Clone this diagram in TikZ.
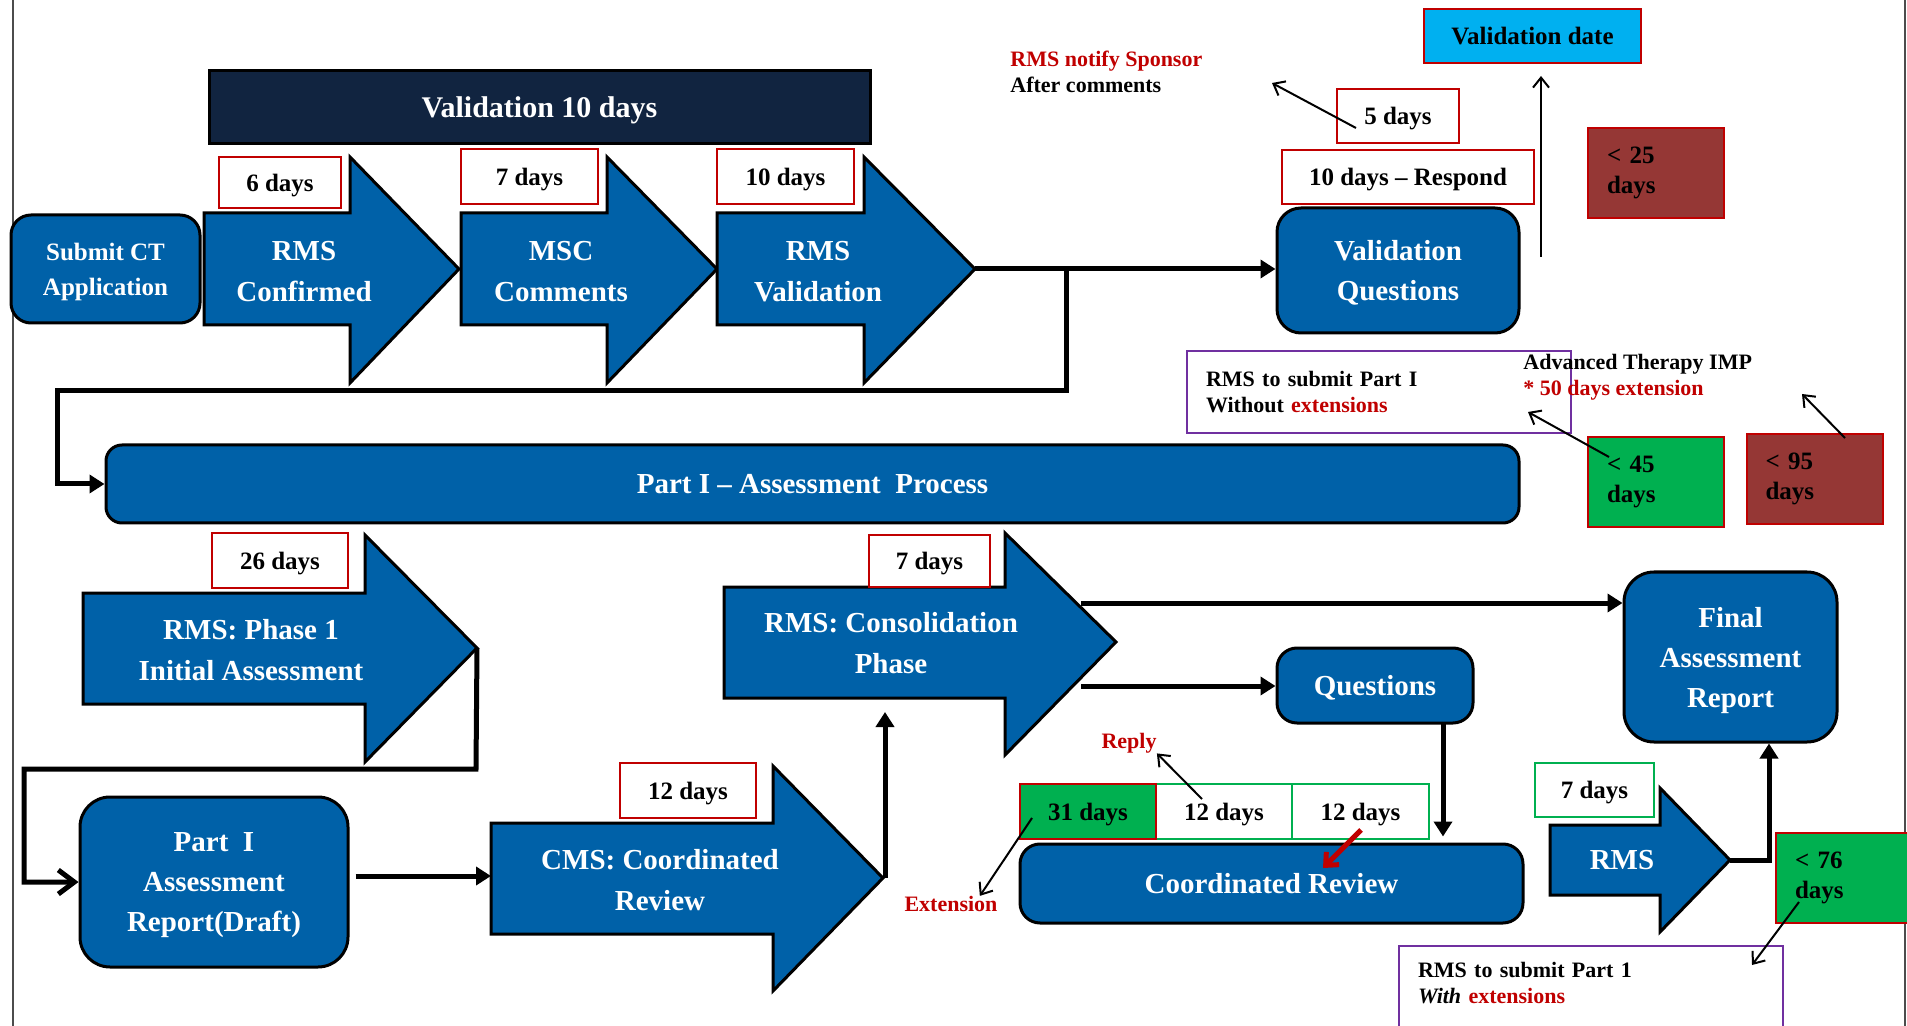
\documentclass[tikz,border=0pt]{standalone}
\usepackage{fontspec}
\setmainfont{Liberation Serif}
\usetikzlibrary{arrows.meta}

\definecolor{msblue}{RGB}{0,97,168}
\definecolor{navy}{RGB}{17,36,64}
\definecolor{boxred}{RGB}{192,0,0}
\definecolor{boxgreen}{RGB}{0,176,80}
\definecolor{limitred}{RGB}{149,55,53}
\definecolor{limitgreen}{RGB}{0,176,80}
\definecolor{notepurple}{RGB}{112,48,160}
\definecolor{valcyan}{RGB}{0,176,240}

\begin{document}
\begin{tikzpicture}[x=0.5pt,y=-0.5pt,
    blueshape/.style={fill=msblue,draw=black,line width=1.5pt},
    roundbox/.style={blueshape,rounded corners=10pt,inner sep=0pt,text=white,align=center,text depth=0pt,
      font=\bfseries\fontsize{14.5}{20}\selectfont},
    arrowtext/.style={text=white,align=center,inner sep=0pt,text depth=0pt,font=\bfseries\fontsize{14.5}{20.5}\selectfont},
    daybox/.style={draw=boxred,fill=white,line width=1pt,inner sep=0pt,text depth=0pt,
      font=\bfseries\fontsize{12.5}{15}\selectfont},
    greenday/.style={daybox,draw=boxgreen},
    limitbox/.style={draw=boxred,line width=1pt,inner ysep=0pt,inner xsep=9.5pt,align=left,
      text width=49pt,minimum width=68pt,minimum height=45pt,font=\bfseries\fontsize{12.5}{15}\selectfont},
    notebox/.style={draw=notepurple,fill=white,line width=1pt,inner xsep=9.5pt,align=left,
      font=\bfseries\fontsize{11}{13}\selectfont},
    note/.style={align=left,inner sep=0pt,font=\bfseries\fontsize{11}{13}\selectfont},
    link/.style={line width=2.5pt,-{Triangle[length=7.5pt,width=9pt]}},
    pointer/.style={line width=1pt,-{Straight Barb[length=5pt,width=8pt]}}]
  \useasboundingbox (0,0) rectangle (1907,1026);
  % page frame
  \draw[line width=0.75pt,black!70] (13,0) -- (13,1026);
  \draw[line width=0.75pt,black!70] (1905,0) -- (1905,1026);

  % validation row
  \node[fill=navy,draw=black,line width=1.5pt,minimum width=330.5pt,minimum height=36.5pt,text depth=0pt,
    text=white,font=\bfseries\fontsize{15}{18}\selectfont] (valten) at (539.5,107.5) {Validation 10 days};
  \node[roundbox,minimum width=94.5pt,minimum height=54pt,
    font=\bfseries\fontsize{12.5}{17.5}\selectfont] (submit) at (105.5,269) {Submit CT\\Application};

  \draw[blueshape] (204,213) -- (350,213) -- (350,157) -- (459,269) -- (350,383) -- (350,325) -- (204,325) -- cycle;
  \node[arrowtext] (rmsconf) at (304,271) {RMS\\Confirmed};
  \draw[blueshape] (461,213) -- (607,213) -- (607,157) -- (717,269) -- (607,383) -- (607,325) -- (461,325) -- cycle;
  \node[arrowtext] (msccom) at (561,271) {MSC\\Comments};
  \draw[blueshape] (717,213) -- (864,213) -- (864,157) -- (975,269) -- (864,383) -- (864,325) -- (717,325) -- cycle;
  \node[arrowtext] (rmsval) at (818,271) {RMS\\Validation};
  \coordinate (rmsval-tip) at (975,269);

  \node[daybox,minimum width=61pt,minimum height=25.5pt] (dsix) at (280,182.5) {6 days};
  \node[daybox,minimum width=68.5pt,minimum height=27.5pt] (dseven) at (529.5,176.5) {7 days};
  \node[daybox,minimum width=68.5pt,minimum height=27.5pt] (dten) at (785.5,176.5) {10 days};

  \node[roundbox,minimum width=121pt,minimum height=62.5pt,rounded corners=12pt] (valq) at (1398,270.5) {Validation\\Questions};
  \node[daybox,minimum width=126pt,minimum height=27pt] (respond) at (1408,177) {10 days \textendash{} Respond};
  \node[daybox,minimum width=61pt,minimum height=27pt] (dfive) at (1398,116) {5 days};
  \node[daybox,fill=valcyan,minimum width=108.5pt,minimum height=27pt] (valdate) at (1532.5,36) {Validation date};
  \node[note,anchor=west] (notify) at (1010,71.5) {\textcolor{boxred}{RMS notify Sponsor}\\After comments};
  \coordinate (fivetail) at (1356,128);
  \coordinate (notifyhead) at (1272,83);
  \draw[pointer] (fivetail) -- (notifyhead);
  \coordinate (datetail) at (1541,257);
  \draw[pointer,shorten >=6pt] (datetail) -- (datetail |- valdate.south);
  \node[limitbox,fill=limitred] (lt25) at (1656,173) {< 25\\days};

  % part I
  \node[notebox,minimum width=192pt,minimum height=41pt,text width=173pt] (nopart) at (1379,392)
    {RMS to submit Part I\\Without \textcolor{boxred}{extensions}};
  \node[note,anchor=west] (atimp) at (1523,377.5) {Advanced Therapy IMP\\\textcolor{boxred}{* 50 days extension}};
  \node[limitbox,fill=limitgreen] (lt45) at (1656,482) {< 45\\days};
  \node[limitbox,fill=limitred] (lt95) at (1814.5,479) {< 95\\days};
  \coordinate (lt45tail) at (1609,457);
  \coordinate (lt45head) at (1528,412);
  \draw[pointer] (lt45tail) -- (lt45head);
  \coordinate (lt95tail) at (1845,438);
  \coordinate (lt95head) at (1802,394);
  \draw[pointer] (lt95tail) -- (lt95head);

  \node[roundbox,minimum width=706.5pt,minimum height=39pt,rounded corners=8pt] (partone) at (812.5,484)
    {Part I \textendash{} Assessment\ \ Process};

  \draw[link] (rmsval-tip) -- (valq.west |- rmsval-tip);
  \coordinate (split) at (1066,269);
  \draw[link] (split) -- (1066,391) -- (57,391) |- (partone.west);

  % assessment row
  \node[daybox,minimum width=68pt,minimum height=27.5pt] (dtwentysix) at (280,560.5) {26 days};
  \draw[blueshape] (83,593) -- (365,593) -- (365,535) -- (477,648) -- (365,762) -- (365,704) -- (83,704) -- cycle;
  \node[arrowtext] (phaseone) at (251,650) {RMS: Phase 1\\Initial Assessment};
  \coordinate (phaseone-tip) at (477,648);

  \node[roundbox,minimum width=134pt,minimum height=85pt,rounded corners=15pt] (draft) at (214,882)
    {Part\ \ I\\Assessment\\Report(Draft)};
  \draw[link,-{Straight Barb[length=8pt,width=12pt]}] (phaseone-tip) -- (476,769) -- (24,769) |- (draft.west);

  \node[daybox,minimum width=68pt,minimum height=27.5pt] (dtwelve) at (688,790.5) {12 days};
  \draw[blueshape] (491,823) -- (773,823) -- (773,766) -- (883,878) -- (773,991) -- (773,934) -- (491,934) -- cycle;
  \node[arrowtext] (cmsrev) at (660,880) {CMS: Coordinated\\Review};
  \coordinate (cms-in) at (491,876);
  \coordinate (cms-tip) at (885,878);
  \draw[link,shorten <=3pt] (draft.east |- cms-in) -- (cms-in);

  \draw[blueshape] (724,587) -- (1005,587) -- (1005,533) -- (1116,642) -- (1005,755) -- (1005,698) -- (724,698) -- cycle;
  \node[arrowtext] (consol) at (891,643) {RMS: Consolidation\\Phase};
  \node[daybox,minimum width=60.5pt,minimum height=26pt] (dsevenb) at (929.5,561) {7 days};
  \coordinate (consol-foot) at (885,698);
  \draw[link,shorten >=7pt] (cms-tip) -- (consol-foot);

  \node[roundbox,minimum width=98pt,minimum height=37.5pt] (quest) at (1375,685.5) {Questions};
  \node[roundbox,minimum width=106.5pt,minimum height=85pt,rounded corners=15pt] (final) at (1730.5,657)
    {Final\\Assessment\\Report};
  \coordinate (consol-up) at (1081,603);
  \coordinate (consol-down) at (1081,686);
  \draw[link] (consol-up) -- (final.west |- consol-up);
  \draw[link] (consol-down) -- (quest.west |- consol-down);

  % coordinated review
  \node[roundbox,minimum width=251.5pt,minimum height=39.5pt,rounded corners=10pt] (coord) at (1271.5,883.5) {Coordinated Review};
  \coordinate (questdrop) at (1443,723);
  \draw[link,shorten >=3pt] (questdrop) -- (questdrop |- coord.north);

  \node[greenday,minimum width=68pt,minimum height=27.5pt] (twelvea) at (1224,811.5) {12 days};
  \node[greenday,minimum width=68.5pt,minimum height=27.5pt] (twelveb) at (1360.5,811.5) {12 days};
  \node[daybox,fill=limitgreen,minimum width=68pt,minimum height=27.5pt] (thirtyone) at (1088,811.5) {31 days};
  \coordinate (redtail) at (1361,830);
  \coordinate (redhead) at (1323,868);
  \draw[line width=2.5pt,boxred,-{Straight Barb[length=5pt,width=9pt]}] (redtail) -- (redhead);

  \node[note,text=boxred] (reply) at (1129,743) {Reply};
  \coordinate (replytail) at (1202,799);
  \draw[pointer] (replytail) -- (reply.south east);
  \node[note,text=boxred] (ext) at (951,904) {Extension};
  \coordinate (exttail) at (1032,818);
  \draw[pointer] (exttail) -- ([xshift=-9pt]ext.north east);

  % final step
  \node[greenday,minimum width=59.5pt,minimum height=27pt] (dsevenc) at (1594.5,790) {7 days};
  \draw[blueshape] (1550,825) -- (1660,825) -- (1660,788) -- (1730,860) -- (1660,932) -- (1660,895) -- (1550,895) -- cycle;
  \node[arrowtext] (rmslast) at (1622,860) {RMS};
  \coordinate (rmslast-tip) at (1730,860);
  \draw[link] (rmslast-tip) -| ([xshift=19.25pt]final.south);

  \node[limitbox,fill=limitgreen,minimum width=67pt,text width=48pt] (lt76) at (1843,877.5) {< 76\\days};
  \node[notebox,anchor=north west,text width=173pt,inner ysep=8pt,text depth=30pt] (withpart) at (1398,945)
    {RMS to submit Part 1\\\textit{With} \textcolor{boxred}{extensions}};
  \coordinate (lt76tail) at (1799,902);
  \coordinate (lt76head) at (1752,965);
  \draw[pointer] (lt76tail) -- (lt76head);
\end{tikzpicture}
\end{document}
